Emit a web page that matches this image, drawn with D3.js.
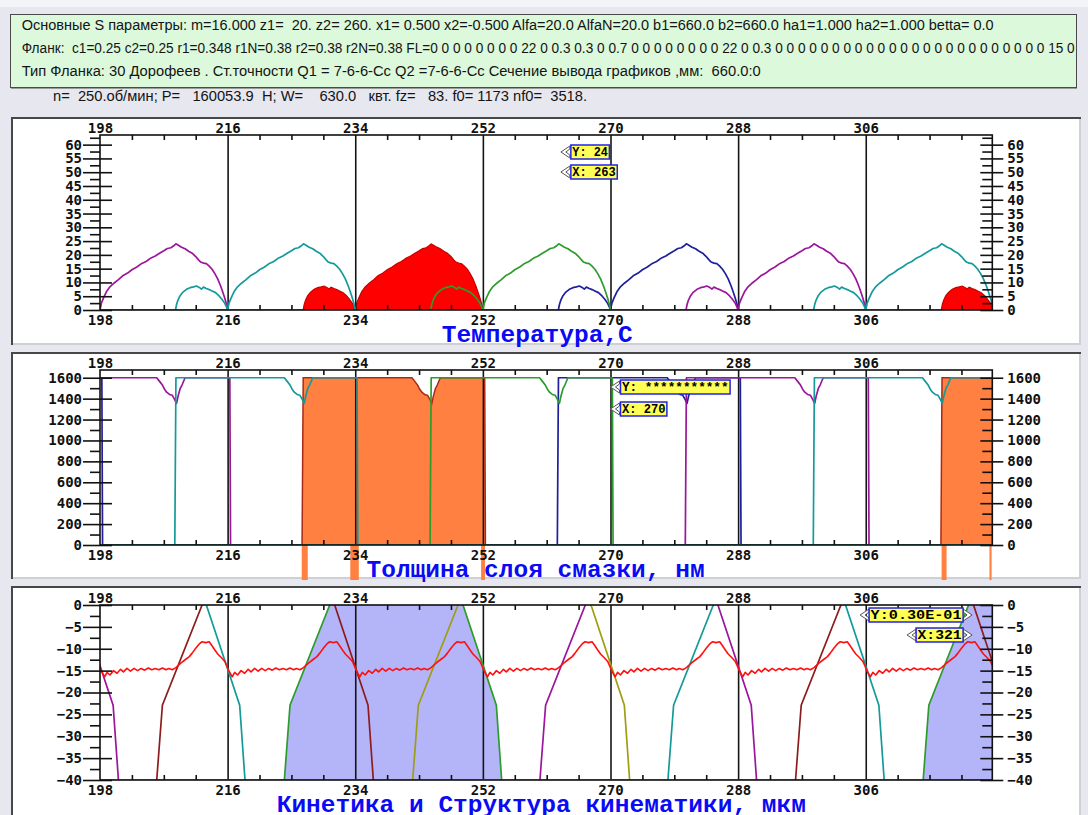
<!DOCTYPE html>
<html><head><meta charset="utf-8">
<script src="https://cdn.jsdelivr.net/npm/d3@7"></script>
<style>html,body{margin:0;padding:0;background:#e7e7ef;} svg{display:block}</style>
</head><body>
<svg id="c" width="1088" height="815"></svg>
<script>
// ---------------- DATA ----------------
const HEADER_LINES = [
  "Основные S параметры: m=16.000 z1=  20. z2= 260. x1= 0.500 x2=-0.500 Alfa=20.0 AlfaN=20.0 b1=660.0 b2=660.0 ha1=1.000 ha2=1.000 betta= 0.0",
  "Фланк:  c1=0.25 c2=0.25 r1=0.348 r1N=0.38 r2=0.38 r2N=0.38 FL=0 0 0 0 0 0 0 0 22 0 0.3 0.3 0 0.7 0 0 0 0 0 0 0 0 22 0 0.3 0 0 0 0 0 0 0 0 0 0 0 0 0 0 0 0 0 0 0 0 0 0 0 0 15 0",
  "Тип Фланка: 30 Дорофеев . Ст.точности Q1 = 7-6-6-Сс Q2 =7-6-6-Сс Сечение вывода графиков ,мм:  660.0:0"
];
const HEADER_WIDTHS = [972, 1053, 739];
const INFO_LINE = "n=  250.об/мин; P=   160053.9  H; W=    630.0   квт. fz=   83. f0= 1173 nf0=  3518.";
const INFO_WIDTH = 534;
const TITLES = ["Температура,С", "Толщина слоя смазки, нм", "Кинетика и Структура кинематики, мкм"];

const X_DOMAIN = [198, 323.85];
const X_MAJOR = [198, 216, 234, 252, 270, 288, 306];
const X_MINOR = [202.5, 207, 211.5, 220.5, 225, 229.5, 238.5, 243, 247.5, 256.5, 261, 265.5,
                 274.5, 279, 283.5, 292.5, 297, 301.5, 310.5, 315, 319.5];

const TEMP_DOMAIN = [0, 63.5];
const TEMP_MAJOR = [0, 5, 10, 15, 20, 25, 30, 35, 40, 45, 50, 55, 60];
const TEMP_MINOR = [2.5, 7.5, 12.5, 17.5, 22.5, 27.5, 32.5, 37.5, 42.5, 47.5, 52.5, 57.5, 62.5];
const THICK_DOMAIN = [0, 1674];
const THICK_MAJOR = [0, 200, 400, 600, 800, 1000, 1200, 1400, 1600];
const THICK_MINOR = [100, 300, 500, 700, 900, 1100, 1300, 1500];
const KIN_DOMAIN = [-40, 0];
const KIN_MAJOR = [-40, -35, -30, -25, -20, -15, -10, -5, 0];
const KIN_MINOR = [-37.5, -32.5, -27.5, -22.5, -17.5, -12.5, -7.5, -2.5];

// Temperature: one tooth cycle = 18 units; big arc over the whole cycle, small arc over its end
const TEMP_CYCLES = [198, 216, 234, 252, 270, 288, 306];
const TEMP_BIG_SERIES = ['P', 'T', 'R', 'G', 'N', 'P', 'T'];
const TEMP_SMALL_SERIES = ['T', 'R', 'G', 'N', 'P', 'T', 'R'];
const TEMP_BIG_PROFILE = [
  [0,0],[0.2,2.5],[0.5,4.4],[0.9,6.6],[1.4,8.4],[2.0,9.8],[2.6,11.0],[3.2,12.4],[3.9,13.4],
  [4.5,14.6],[5.2,15.6],[5.9,16.9],[6.5,17.6],[7.2,18.9],[7.8,19.6],[8.4,20.6],[9.0,21.5],
  [9.5,22.3],[10.0,22.6],[10.4,23.3],[10.7,24.0],[11.0,23.6],[11.5,22.8],[12.0,22.2],[12.5,21.3],
  [13.0,20.6],[13.5,19.4],[13.9,18.2],[14.2,17.4],[14.6,17.0],[15.0,16.8],[15.4,15.9],[15.8,14.8],
  [16.2,13.2],[16.6,11.3],[17.0,8.8],[17.3,6.6],[17.6,4.3],[17.85,2.0],[18.0,0]
];
const TEMP_SMALL_PROFILE = [
  [10.65,0],[10.8,2.0],[11.0,3.6],[11.3,5.2],[11.7,6.5],[12.2,7.5],[12.7,8.1],[13.2,8.4],
  [13.6,8.7],[14.0,8.2],[14.3,7.6],[14.6,8.3],[15.0,7.8],[15.4,7.4],[15.8,6.9],[16.3,6.3],
  [16.8,5.1],[17.2,3.9],[17.6,2.4],[17.85,1.0],[18.0,0]
];

// Film thickness
const THICK_TOP = 1600;
const THICK_SERIES = ['N', 'P', 'T', 'R', 'G', 'N', 'P', 'T', 'R'];
const THICK_RISE = [null, null, 208.65, 226.6, 244.65, 262.6, 280.65, 298.7, 316.7];
const THICK_DIP_CYCLE = [null, 198, 216, 234, 252, 270, 288, 306, null];
const THICK_DROP = [198.3, 216.35, 234.3, 252.3, 270.3, 288.35, 306.4, null, null];
const THICK_DIP_PROFILE = [
  [8.0,1600],[8.4,1565],[8.8,1530],[9.1,1490],[9.4,1462],[9.8,1440],[10.2,1432],[10.5,1395],
  [10.8,1355],[11.0,1420],[11.3,1495],[11.6,1535],[12.0,1600]
];
const ORANGE_STUB_X0 = [226.45, 233.3, 251.75, 316.7, 323.45];
const ORANGE_STUB_X1 = [227.3, 234.5, 252.3, 317.4, 323.75];
const ORANGE_STUB_DEPTH = -335;

// Kinetics
const KIN_RISE_X = [206.0, 224.0, 242.1, 260.05, 278.1, 296.1, 314.1];
const KIN_RISE_SERIES = ['M', 'G', 'O', 'P', 'T', 'M', 'G'];
const KIN_FALL_X = [195.15, 213.0, 231.1, 249.2, 267.25, 285.15, 303.15, 321.2];
const KIN_FALL_SERIES = ['P', 'T', 'M', 'G', 'O', 'P', 'T', 'M'];
const KIN_RISE_PROFILE = [[0,-40],[0.8,-22.9],[6.4,0],[6.75,1.8]];
const KIN_FALL_PROFILE = [[-0.35,1.8],[0,0],[4.7,-22.9],[5.45,-40]];
const KIN_FILL_RISE = [224.0, 314.1];
const KIN_FILL_FALL = [249.2, null];
const KIN_RED_CYCLES = [198, 216, 234, 252, 270, 288, 306];
const KIN_RED_PROFILE = [
  [0,-14.4],[0.25,-15.3],[0.65,-16.4],[1.0,-15.4],[1.4,-16.0],[1.9,-15.0],[2.4,-15.6],[2.9,-14.7],
  [3.3,-15.3],[3.8,-14.5],[4.3,-15.1],[4.8,-14.5],[5.3,-15.0],[5.8,-14.5],[6.3,-14.9],[6.8,-14.4],
  [7.3,-14.8],[7.8,-14.5],[8.3,-14.8],[8.8,-14.4],[9.3,-14.8],[9.7,-14.5],[10.2,-14.8],[10.7,-14.3],
  [11.4,-13.3],[12.1,-12.4],[12.6,-11.8],[13.0,-11.0],[13.5,-9.9],[14.0,-8.9],[14.4,-8.4],[14.9,-8.6],
  [15.4,-8.4],[15.7,-9.1],[16.2,-10.3],[16.6,-11.2],[17.1,-12.0],[17.6,-12.9],[17.9,-14.0]
];

// Cursor read-outs
const TIP_X = [263, 270, 321];
const TIP_Y_TEXT = ["Y: 24", "Y: ***********", "Y:0.30E-01"];
const TIP_X_TEXT = ["X: 263", "X: 270", "X:321"];

// ---------------- STYLE ----------------
const C1 = {P:'#9b169b', T:'#149a9a', R:'#ff0000', G:'#2c9c2c', N:'#1e1e9e'};
const C3 = {M:'#8e1c1c', G:'#2c9c2c', O:'#9e9e14', P:'#9b169b', T:'#149a9a'};
const ORANGE = '#ff8040', LAVENDER = '#b4b4f8';
const TICK_FONT = '"DejaVu Sans Mono", monospace';
const TITLE_FONT = '"Liberation Mono", "Courier New", monospace';

// ---------------- DRAW ----------------
const svg = d3.select('#c');
const defs = svg.append('defs');
svg.append('rect').attr('width', 1088).attr('height', 815).attr('fill', '#e7e7ef');
svg.append('rect').attr('width', 1088).attr('height', 7).attr('fill', '#f4f4f8');

const x = d3.scaleLinear().domain(X_DOMAIN).range([100, 992.3]);

// header box
svg.append('rect').attr('x', 10.5).attr('y', 14.5).attr('width', 1066).attr('height', 73)
  .attr('fill', '#dcf9dc').attr('stroke', '#4a4a4a').attr('stroke-width', 1);
svg.append('line').attr('x1', 11).attr('x2', 1077).attr('y1', 88.5).attr('y2', 88.5).attr('stroke', '#9a9a9a');
defs.append('clipPath').attr('id', 'hclip').append('rect').attr('x', 11).attr('y', 15).attr('width', 1065).attr('height', 72);
const ht = svg.append('g').attr('clip-path', 'url(#hclip)')
  .attr('font-family', '"Liberation Sans", Arial, sans-serif').attr('fill', '#141414');
const hl = HEADER_LINES.map((s, i) => ht.append('text').attr('x', 21.7).attr('y', 29.5 + i * 23.2)
  .style('white-space', 'pre').attr('font-size', 12).text(s));
const k = HEADER_WIDTHS[0] / hl[0].node().getComputedTextLength();
const hfs = 12 * k;
hl.forEach((t, i) => t.attr('font-size', hfs).attr('textLength', HEADER_WIDTHS[i]).attr('lengthAdjust', 'spacingAndGlyphs'));
svg.append('text').attr('x', 53).attr('y', 101).style('white-space', 'pre')
  .attr('font-family', '"Liberation Sans", Arial, sans-serif').attr('fill', '#141414')
  .attr('font-size', hfs).attr('textLength', INFO_WIDTH).attr('lengthAdjust', 'spacingAndGlyphs').text(INFO_LINE);

const PANELS = [
  {frame:[11,117,1081,345], top:135, bottom:310, domain:TEMP_DOMAIN, major:TEMP_MAJOR, minor:TEMP_MINOR, titleX:441.7, titleY:341.5},
  {frame:[11,352,1081,579], top:370, bottom:545, domain:THICK_DOMAIN, major:THICK_MAJOR, minor:THICK_MINOR, titleX:366.5, titleY:577},
  {frame:[11,586,1081,840], top:605, bottom:780, domain:KIN_DOMAIN, major:KIN_MAJOR, minor:KIN_MINOR, titleX:276.7, titleY:812}
];

function styleAxis(g) {
  g.attr('font-family', TICK_FONT).attr('font-size', 14).attr('font-weight', 'bold');
  g.select('.domain').remove();
  g.selectAll('.tick line').attr('stroke', '#111').attr('stroke-width', 1.6);
  g.selectAll('.tick text').attr('fill', '#111');
}

PANELS.forEach((p, i) => {
  const [fx0, fy0, fx1, fy1] = p.frame;
  const g = svg.append('g');
  g.append('rect').attr('x', fx0).attr('y', fy0).attr('width', fx1 - fx0).attr('height', fy1 - fy0).attr('fill', '#fff');
  g.append('path').attr('d', `M${fx0+1},${fy1} V${fy0+1} H${fx1}`).attr('fill', 'none').attr('stroke', '#474747').attr('stroke-width', 2);
  g.append('path').attr('d', `M${fx0+2},${fy1-1} H${fx1-1} V${fy0+2}`).attr('fill', 'none').attr('stroke', '#cfcfd4').attr('stroke-width', 2);
  p.y = d3.scaleLinear().domain(p.domain).range([p.bottom, p.top]);
  p.g = g;
  defs.append('clipPath').attr('id', 'pc' + i).append('rect')
    .attr('x', x.range()[0]).attr('y', p.top).attr('width', x.range()[1] - x.range()[0]).attr('height', p.bottom - p.top);
  p.stubLayer = g.append('g');
  p.fillLayer = g.append('g').attr('clip-path', `url(#pc${i})`);
  p.gridLayer = g.append('g');
  p.lineLayer = g.append('g').attr('clip-path', `url(#pc${i})`);
  p.axisLayer = g.append('g');
});

// axes, grid, frames
PANELS.forEach((p) => {
  const y = p.y, A = p.axisLayer, L = x.range()[0], R = x.range()[1];
  const grid = p.gridLayer.append('g').attr('transform', `translate(0,${p.bottom})`)
    .call(d3.axisBottom(x).tickValues(X_MAJOR.slice(1)).tickSize(-(p.bottom - p.top)).tickFormat(''));
  grid.select('.domain').remove();
  grid.selectAll('line').attr('stroke', '#151515').attr('stroke-width', 1.6);
  const top = A.append('g').attr('transform', `translate(0,${p.top})`)
    .call(d3.axisTop(x).tickValues(X_MAJOR).tickSize(0).tickPadding(2).tickFormat(d3.format('d')));
  styleAxis(top);
  const topMin = A.append('g').attr('transform', `translate(0,${p.top})`)
    .call(d3.axisTop(x).tickValues(X_MINOR).tickSize(-5).tickFormat(''));
  styleAxis(topMin);
  const bot = A.append('g').attr('transform', `translate(0,${p.bottom})`)
    .call(d3.axisBottom(x).tickValues(X_MAJOR).tickSize(0).tickPadding(5).tickFormat(d3.format('d')));
  styleAxis(bot);
  const botMin = A.append('g').attr('transform', `translate(0,${p.bottom})`)
    .call(d3.axisBottom(x).tickValues(X_MINOR).tickSize(-5).tickFormat(''));
  styleAxis(botMin);
  const left = A.append('g').attr('transform', `translate(${L},0)`)
    .call(d3.axisLeft(y).tickValues(p.major).tickSize(17).tickPadding(1).tickFormat(d3.format('d')));
  styleAxis(left);
  left.selectAll('.tick line').attr('x1', 12);
  const leftMin = A.append('g').attr('transform', `translate(${L},0)`)
    .call(d3.axisLeft(y).tickValues(p.minor).tickSize(10).tickFormat(''));
  styleAxis(leftMin);
  const right = A.append('g').attr('transform', `translate(${R},0)`)
    .call(d3.axisRight(y).tickValues(p.major).tickSize(11).tickPadding(4).tickFormat(d3.format('d')));
  styleAxis(right);
  right.selectAll('.tick line').attr('x1', -12);
  const rightMin = A.append('g').attr('transform', `translate(${R},0)`)
    .call(d3.axisRight(y).tickValues(p.minor).tickSize(-10).tickFormat(''));
  styleAxis(rightMin);
  A.append('rect').attr('x', L).attr('y', p.top).attr('width', R - L).attr('height', p.bottom - p.top)
    .attr('fill', 'none').attr('stroke', '#111').attr('stroke-width', 1.6);
});

const shift = (prof, s) => prof.map(([dx, v]) => [s + dx, v]);

// ---- Panel 1: temperature ----
{
  const p = PANELS[0], y = p.y;
  const line = d3.line().x(d => x(d[0])).y(d => y(d[1]));
  const area = d3.area().x(d => x(d[0])).y0(y(0)).y1(d => y(d[1]));
  const series = [];
  TEMP_CYCLES.forEach((s, i) => {
    series.push({key: TEMP_BIG_SERIES[i], pts: shift(TEMP_BIG_PROFILE, s)});
    series.push({key: TEMP_SMALL_SERIES[i], pts: shift(TEMP_SMALL_PROFILE, s)});
  });
  p.lineLayer.append('path').attr('d', line([[X_DOMAIN[0], 0], [X_DOMAIN[1], 0]]))
    .attr('stroke', C1.G).attr('stroke-width', 1.6).attr('fill', 'none');
  series.filter(d => d.key === 'R').forEach(d => {
    p.fillLayer.append('path').attr('d', area(d.pts)).attr('fill', '#ff0000')
      .attr('stroke', '#c80000').attr('stroke-width', 1.2);
  });
  ['N', 'P', 'G', 'T'].forEach(key => {
    series.filter(d => d.key === key).forEach(d => {
      p.lineLayer.append('path').attr('d', line(d.pts)).attr('fill', 'none')
        .attr('stroke', C1[key]).attr('stroke-width', 1.7).attr('stroke-linejoin', 'round');
    });
  });
}

// ---- Panel 2: film thickness ----
{
  const p = PANELS[1], y = p.y;
  const line = d3.line().x(d => x(d[0])).y(d => y(d[1]));
  const area = d3.area().x(d => x(d[0])).y0(y(0)).y1(d => y(d[1]));
  const x0 = X_DOMAIN[0] - 1, x1 = X_DOMAIN[1] + 1;
  const series = THICK_SERIES.map((key, i) => {
    const pts = [];
    const rise = THICK_RISE[i], cyc = THICK_DIP_CYCLE[i], drop = THICK_DROP[i];
    if (rise == null) pts.push([x0, THICK_TOP]);
    else pts.push([x0, 0], [rise - 0.1, 0], [rise + 0.06, THICK_TOP]);
    if (cyc != null) shift(THICK_DIP_PROFILE, cyc).forEach(d => pts.push(d));
    if (drop == null) pts.push([x1, THICK_TOP]);
    else pts.push([drop - 0.04, THICK_TOP], [drop + 0.06, 0], [x1, 0]);
    return {key, pts};
  });
  ORANGE_STUB_X0.forEach((a, i) => {
    p.stubLayer.append('rect').attr('x', x(a)).attr('width', x(ORANGE_STUB_X1[i]) - x(a))
      .attr('y', y(0)).attr('height', y(ORANGE_STUB_DEPTH) - y(0)).attr('fill', ORANGE);
  });
  series.filter(d => d.key === 'R').forEach(d => {
    p.fillLayer.append('path').attr('d', area(d.pts)).attr('fill', ORANGE);
    p.lineLayer.append('path').attr('d', line(d.pts)).attr('fill', 'none')
      .attr('stroke', '#a82a14').attr('stroke-width', 1.5);
  });
  ['N', 'P', 'G', 'T'].forEach(key => {
    series.filter(d => d.key === key).forEach(d => {
      p.lineLayer.append('path').attr('d', line(d.pts)).attr('fill', 'none')
        .attr('stroke', C1[key]).attr('stroke-width', 1.7).attr('stroke-linejoin', 'round');
    });
  });
}

// ---- Panel 3: kinetics ----
{
  const p = PANELS[2], y = p.y;
  const line = d3.line().x(d => x(d[0])).y(d => y(d[1]));
  const area = d3.area().x(d => x(d[0])).y0(y(-40)).y1(d => y(d[1]));
  KIN_FILL_RISE.forEach((r, j) => {
    const pts = shift(KIN_RISE_PROFILE.filter(d => d[1] <= 0), r);
    const f = KIN_FILL_FALL[j];
    if (f != null) shift(KIN_FALL_PROFILE.filter(d => d[1] <= 0), f).forEach(d => pts.push(d));
    else pts.push([X_DOMAIN[1] + 1, 0]);
    p.fillLayer.append('path').attr('d', area(pts)).attr('fill', LAVENDER);
  });
  p.lineLayer.append('path').attr('d', line([[X_DOMAIN[0], -40], [X_DOMAIN[1], -40]]))
    .attr('stroke', C3.O).attr('stroke-width', 1.6).attr('fill', 'none');
  KIN_FALL_X.forEach((f, i) => {
    p.lineLayer.append('path').attr('d', line(shift(KIN_FALL_PROFILE, f))).attr('fill', 'none')
      .attr('stroke', C3[KIN_FALL_SERIES[i]]).attr('stroke-width', 1.7);
  });
  KIN_RISE_X.forEach((r, i) => {
    p.lineLayer.append('path').attr('d', line(shift(KIN_RISE_PROFILE, r))).attr('fill', 'none')
      .attr('stroke', C3[KIN_RISE_SERIES[i]]).attr('stroke-width', 1.7);
  });
  const red = [];
  KIN_RED_CYCLES.forEach(s => shift(KIN_RED_PROFILE, s).forEach(d => red.push(d)));
  p.lineLayer.append('path').attr('d', line(red)).attr('fill', 'none')
    .attr('stroke', '#ff1010').attr('stroke-width', 1.6).attr('stroke-linejoin', 'round');
}

// titles
PANELS.forEach((p, i) => {
  svg.append('text').attr('x', p.titleX).attr('y', p.titleY).text(TITLES[i])
    .attr('font-family', TITLE_FONT).attr('font-weight', 'bold').attr('font-size', 24.5)
    .attr('fill', '#0a0af5').attr('textLength', TITLES[i].length * 14.7).attr('lengthAdjust', 'spacing');
});

// cursor read-outs
function chevron(g, tipX, top, h, dir) {
  const m = top + h / 2, b = dir < 0 ? tipX + 9 : tipX - 9;
  g.append('path')
    .attr('d', `M${b},${top+1} L${tipX},${m} L${b},${top+h-1} L${b},${top+h-4} L${tipX+dir*-5},${m} L${b},${top+4} Z`)
    .attr('fill', '#fff').attr('stroke', '#555').attr('stroke-width', 1);
}
function box(g, x0, top, w, h, txt) {
  g.append('rect').attr('x', x0).attr('y', top).attr('width', w).attr('height', h)
    .attr('fill', '#ffff55').attr('stroke', '#2323e6').attr('stroke-width', 1.5);
  g.append('text').attr('x', x0 + 1.5).attr('y', top + h - 3).text(txt)
    .attr('font-family', TITLE_FONT).attr('font-weight', 'bold').attr('font-size', 13.5)
    .attr('fill', '#000').attr('textLength', w - 3).attr('lengthAdjust', 'spacingAndGlyphs');
}
const tips = svg.append('g');
[0, 1].forEach(i => {
  const p = PANELS[i], tip = x(TIP_X[i]), bx = tip + 10, h = 14;
  const offs = i === 0 ? [10, 30] : [10, 32];
  [TIP_Y_TEXT[i], TIP_X_TEXT[i]].forEach((t, j) => {
    const top = p.top + offs[j];
    chevron(tips, tip, top, h, -1);
    box(tips, bx, top, t.length * 7.9 - 1, h, t);
  });
});
{
  const i = 2, p = PANELS[i], tip = x(TIP_X[i]), br = tip - 9, h = 14;
  [TIP_Y_TEXT[i], TIP_X_TEXT[i]].forEach((t, j) => {
    const top = p.top + (j === 0 ? 3 : 23);
    const w = t.length * 9.4;
    chevron(tips, br - w - 9, top, h, -1);
    chevron(tips, tip, top, h, 1);
    box(tips, br - w, top, w, h, t);
  });
}
</script>
</body></html>
